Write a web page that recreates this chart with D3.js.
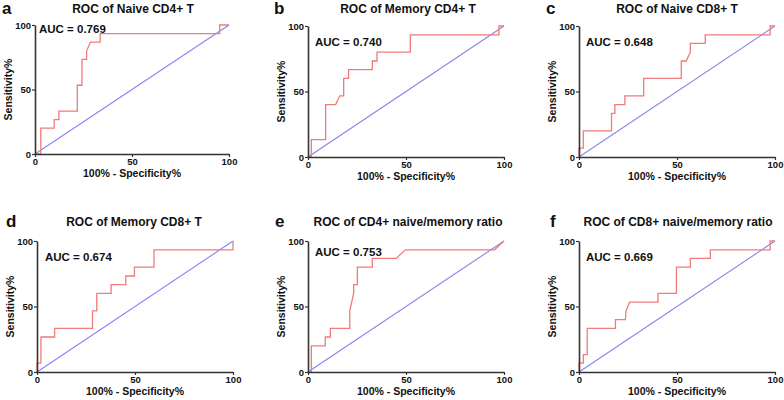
<!DOCTYPE html>
<html><head><meta charset="utf-8">
<script src="https://cdn.jsdelivr.net/npm/d3@7"></script>
<style>
html,body{margin:0;padding:0;background:#fff;}
svg{display:block;font-family:"Liberation Sans",Arial,sans-serif;font-weight:bold;}
</style></head>
<body><svg id="c" width="784" height="400"></svg>
<script>
// ---- data ----
const panelLetters = ["a","b","c","d","e","f"];
const panelTitles = ["ROC of Naive CD4+ T","ROC of Memory CD4+ T","ROC of Naive CD8+ T",
  "ROC of Memory CD8+ T","ROC of CD4+ naive/memory ratio","ROC of CD8+ naive/memory ratio"];
const aucLabels = ["AUC = 0.769","AUC = 0.740","AUC = 0.648","AUC = 0.674","AUC = 0.753","AUC = 0.669"];
const tickValues = [0, 50, 100];
const xLabel = "100% - Specificity%";
const yLabel = "Sensitivity%";
const refX = [0, 100];
const refY = [0, 100];

const aX = [0, 3, 3, 9.9, 9.9, 12.3, 12.3, 21.8, 21.8, 24.2, 24.2, 26.6, 26.6, 28.6, 33.6, 33.6, 95.2, 95.2, 100];
const aY = [0, 0, 20, 20, 26.7, 26.7, 33.3, 33.3, 53.3, 53.3, 73.3, 73.3, 80, 86.7, 86.7, 93.3, 93.3, 100, 100];
const bX = [0, 1.7, 1.7, 9.0, 9.0, 14.1, 16.2, 18.2, 18.2, 20.7, 20.7, 32.8, 32.8, 35.2, 35.2, 52.2, 52.2, 97.4, 97.4, 100];
const bY = [0, 0, 13.3, 13.3, 40, 40, 46.7, 46.7, 60, 60, 66.7, 66.7, 73.3, 73.3, 80, 80, 93.3, 93.3, 100, 100];
const cX = [0, 0, 2.2, 2.2, 16.6, 16.6, 18.3, 18.3, 23.4, 23.4, 33, 33, 52.2, 52.2, 54.7, 56.8, 56.8, 64.4, 64.4, 97.5, 97.5, 100];
const cY = [0, 6.7, 6.7, 20, 20, 33.3, 33.3, 40, 40, 46.7, 46.7, 60, 60, 73.3, 73.3, 80, 86.7, 86.7, 93.3, 93.3, 100, 100];
const dX = [0, 0, 2, 2, 9, 9, 28.3, 28.3, 30.5, 30.5, 37.8, 37.8, 45.3, 45.3, 49.7, 49.7, 59.7, 59.7, 100, 100];
const dY = [0, 6.7, 6.7, 26.7, 26.7, 33.3, 33.3, 46.7, 46.7, 60, 60, 66.7, 66.7, 73.3, 73.3, 80, 80, 93.3, 93.3, 100];
const eX = [0, 1.7, 1.7, 8.8, 8.8, 11.4, 11.4, 21.3, 21.3, 23.3, 23.3, 25.2, 25.2, 32.8, 32.8, 45, 49.7, 95.2, 100];
const eY = [0, 0, 20, 20, 26.7, 26.7, 33.3, 33.3, 46.7, 60, 66.7, 66.7, 80, 80, 86.7, 86.7, 93.3, 93.3, 100];
const fX = [0, 0, 2.2, 2.2, 4.2, 4.2, 18.6, 18.6, 23.7, 24, 25.8, 40.3, 40.3, 49.7, 49.7, 56.8, 56.8, 67, 67, 97.5, 97.5, 100];
const fY = [0, 6.7, 6.7, 13.3, 13.3, 33.3, 33.3, 40, 40, 46.7, 53.3, 53.3, 60, 60, 80, 80, 86.7, 86.7, 93.3, 93.3, 100, 100];
const curvesX = [aX, bX, cX, dX, eX, fX];
const curvesY = [aY, bY, cY, dY, eY, fY];

// ---- layout ----
const boxes = [
  {x0:35, x1:229, yT:25, yB:154, titleX:133, titleY:13, letterX:2, letterY:14, aucX:39, aucY:33},
  {x0:308, x1:504, yT:26, yB:157, titleX:408, titleY:13, letterX:274, letterY:14, aucX:315, aucY:46},
  {x0:579, x1:775, yT:26, yB:157, titleX:677, titleY:13, letterX:546, letterY:14, aucX:586, aucY:46},
  {x0:37, x1:233, yT:241, yB:372, titleX:134, titleY:226, letterX:6, letterY:227, aucX:45, aucY:261},
  {x0:308, x1:504, yT:241, yB:372, titleX:408, titleY:226, letterX:275, letterY:227, aucX:315, aucY:256},
  {x0:579, x1:775, yT:241, yB:372, titleX:678, titleY:226, letterX:550, letterY:227, aucX:586, aucY:261}
];
const RED = "#f07b7b", BLUE = "#8585ee", AX = "#333";

const svg = d3.select("#c");
boxes.forEach((b, i) => {
  const x = d3.scaleLinear().domain([0,100]).range([b.x0, b.x1]);
  const y = d3.scaleLinear().domain([0,100]).range([b.yB, b.yT]);
  const g = svg.append("g");
  const line = d3.line().x(d => x(d[0])).y(d => y(d[1]));

  g.append("path").datum(d3.zip(refX, refY)).attr("d", line)
    .attr("fill","none").attr("stroke",BLUE).attr("stroke-width",1.1);
  g.append("path").datum(d3.zip(curvesX[i], curvesY[i])).attr("d", line)
    .attr("fill","none").attr("stroke",RED).attr("stroke-width",1.3).attr("stroke-linejoin","miter");

  const xa = g.append("g").attr("transform",`translate(0,${b.yB})`)
    .call(d3.axisBottom(x).tickValues(tickValues).tickSize(3).tickSizeOuter(0).tickPadding(1));
  const ya = g.append("g").attr("transform",`translate(${b.x0},0)`)
    .call(d3.axisLeft(y).tickValues(tickValues).tickSize(3).tickSizeOuter(0).tickPadding(1));
  [xa, ya].forEach(a => {
    a.select(".domain").attr("stroke",AX).attr("stroke-width",1.6);
    a.selectAll(".tick line").attr("stroke",AX).attr("stroke-width",1.2);
    a.selectAll(".tick text").attr("fill","#111").style("font-size","9.5px")
      .style("font-weight","bold").style("font-family","Liberation Sans, Arial, sans-serif");
  });

  g.append("text").attr("x", (b.x0+b.x1)/2).attr("y", b.yB+23).attr("text-anchor","middle")
    .style("font-size","10.5px").attr("fill","#111").text(xLabel);
  g.append("text").attr("transform",`translate(${b.x0-23},${(b.yT+b.yB)/2}) rotate(-90)`)
    .attr("text-anchor","middle").style("font-size","10.5px").attr("fill","#111").text(yLabel);
  g.append("text").attr("x", b.titleX).attr("y", b.titleY).attr("text-anchor","middle")
    .style("font-size","12px").attr("fill","#111").text(panelTitles[i]);
  g.append("text").attr("x", b.letterX).attr("y", b.letterY)
    .style("font-size","17px").attr("fill","#111").text(panelLetters[i]);
  g.append("text").attr("x", b.aucX).attr("y", b.aucY)
    .style("font-size","11.5px").attr("fill","#111").text(aucLabels[i]);
});
</script></body></html>
